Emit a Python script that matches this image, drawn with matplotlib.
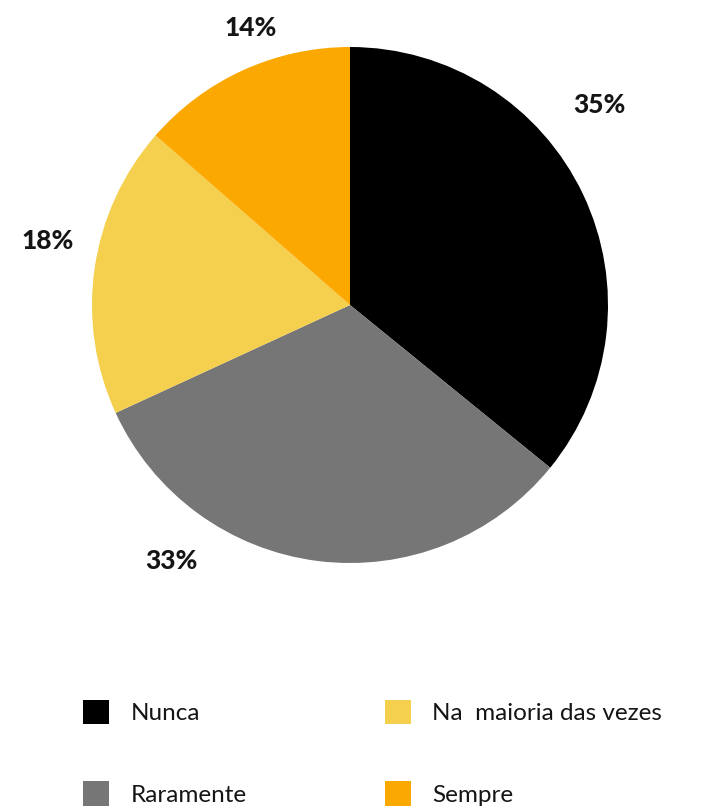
import matplotlib.pyplot as plt
import numpy as np

plt.rcParams['font.family'] = ['Lato', 'DejaVu Sans']

# data
categorias = ['Nunca', 'Raramente', 'Na  maioria das vezes', 'Sempre']
valores = [35.9, 32.3, 18.3, 13.6]   # slice sizes as drawn
rotulos = ['35%', '33%', '18%', '14%']  # printed labels
cores = ['#000000', '#767676', '#F5D04F', '#FBA800']

# label spots (angle deg, radius) - placed by hand like the original
ang_rot = [38.7, 235.0, 168.0, 109.8]
raio_rot = [1.24, 1.21, 1.20, 1.14]

fig = plt.figure(figsize=(7.05, 8.08), dpi=100, facecolor='white')
cx, cy, r = 350, 305, 258
ax = fig.add_axes([(cx - r) / 705, (808 - cy - r) / 808, 2 * r / 705, 2 * r / 808])

wedges, _ = ax.pie(valores, colors=cores, startangle=90, counterclock=False,
                   radius=1, wedgeprops=dict(linewidth=0))
ax.set_xlim(-1, 1)
ax.set_ylim(-1, 1)
ax.set_aspect('equal')
ax.axis('off')

for txt, a, rr in zip(rotulos, ang_rot, raio_rot):
    t = np.deg2rad(a)
    ax.text(rr * np.cos(t), rr * np.sin(t), txt, ha='center', va='center',
            fontsize=19, fontweight='black', color='#151515', clip_on=False)

leg = fig.legend(wedges, categorias, loc='upper left', ncol=2,
                 bbox_to_anchor=(83 / 705, 1 - 700 / 808), frameon=False,
                 fontsize=17.5, handlelength=1.05, handleheight=1.15,
                 handletextpad=0.9, labelspacing=2.35, columnspacing=5.7,
                 borderpad=0, borderaxespad=0)
for t in leg.get_texts():
    t.set_color('#151515')

plt.savefig('out.png', dpi=100)
